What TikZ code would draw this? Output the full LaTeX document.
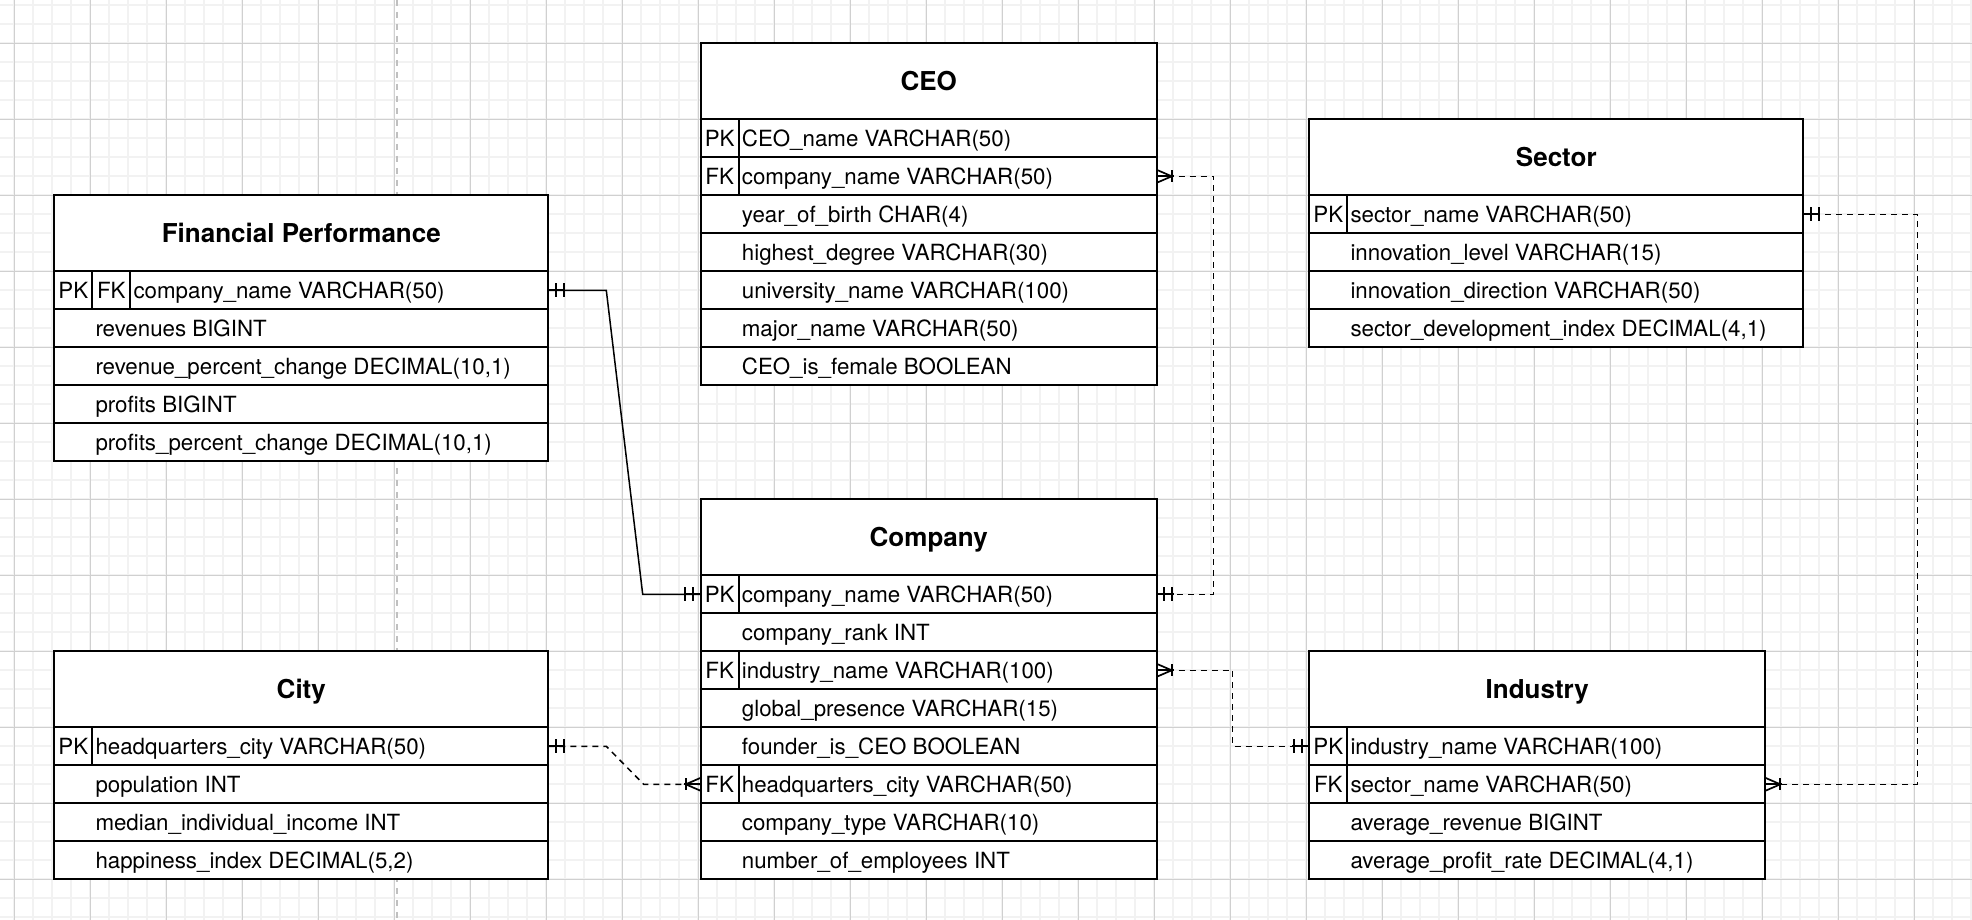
\documentclass[tikz,border=0pt]{standalone}
\usepackage{fontspec}
\setmainfont{TeX Gyre Heros}
\usetikzlibrary{calc}
\definecolor{minorgrid}{HTML}{F2F2F2}
\definecolor{majorgrid}{HTML}{D0D0D0}
\definecolor{pagebreak}{HTML}{C0C0C0}
\tikzset{
 cellbase/.style={draw=black, line width=1.8pt, fill=white, outer sep=0pt, inner sep=0pt},
 headcell/.style={cellbase, minimum height=76pt},
 rowcell/.style={cellbase, minimum height=38pt},
 keycell/.style={cellbase, minimum width=38pt, minimum height=38pt, text height=15.8pt, text depth=0pt, font=\fontsize{22.3}{26}\selectfont},
 rowtext/.style={inner sep=0pt, anchor=west, text height=15.8pt, text depth=0pt, font=\fontsize{22.3}{26}\selectfont},
 titletext/.style={inner sep=0pt, text height=18.7pt, text depth=0pt, font=\fontsize{26}{30}\selectfont\bfseries},
 conn/.style={draw=black, line width=1.5pt},
 dashconn/.style={conn, dash pattern=on 6pt off 5pt},
 mk/.style={draw=black, line width=1.7pt},
 minorline/.style={draw=minorgrid, line width=1.7pt},
 majorline/.style={draw=majorgrid, line width=1pt},
 pageline/.style={draw=pagebreak, line width=2pt, dash pattern=on 6pt off 6pt},
}
\newcommand{\erhead}[5]{%
 \node[headcell, minimum width=#4pt, anchor=north west] (#1) at (#2,#3) {};
 \node[titletext] (#1-title) at (#1.center) {#5};}
\newcommand{\errow}[6]{%
 \node[rowcell, minimum width=#4pt, anchor=north west] (#1) at (#2,#3) {};
 \if\relax\detokenize{#5}\relax\else\node[keycell, anchor=north west] (#1-key) at (#2,#3) {#5};\fi
 \node[rowtext] (#1-text) at ($(#1.west)+(41,0)$) {#6};}
\newcommand{\mone}[2]{%
 \draw[mk] (#1) -- ($(#1)+(#2*17,0)$);
 \draw[mk] ($(#1)+(#2*7.5,-7)$) -- ($(#1)+(#2*7.5,7)$);
 \draw[mk] ($(#1)+(#2*15.5,-7)$) -- ($(#1)+(#2*15.5,7)$);}
\newcommand{\mmany}[2]{%
 \draw[mk] (#1) -- ($(#1)+(#2*17,0)$);
 \draw[mk] ($(#1)+(0,-6.5)$) -- ($(#1)+(#2*15,0)$) -- ($(#1)+(0,6.5)$);
 \draw[mk] ($(#1)+(#2*15,-6)$) -- ($(#1)+(#2*15,6)$);}
\begin{document}
\begin{tikzpicture}[x=1pt,y=-1pt]
\useasboundingbox (0,0) rectangle (1972,920);
\fill[white] (0,0) rectangle (1972,920);
% grid
\foreach \i in {0,...,104} \draw[minorline] ({-4.7+19*\i},0) -- ({-4.7+19*\i},920);
\foreach \j in {0,...,48} \draw[minorline] (0,{5.3+19*\j}) -- (1972,{5.3+19*\j});
\foreach \i in {0,...,25} \draw[majorline] ({14.3+76*\i},0) -- ({14.3+76*\i},920);
\foreach \j in {0,...,11} \draw[majorline] (0,{43.3+76*\j}) -- (1972,{43.3+76*\j});
\draw[pageline] (396.7,0) -- (396.7,920);

% Financial Performance
\erhead{fp}{54.3}{195.3}{494}{Financial Performance}
\node[rowcell, minimum width=494pt, anchor=north west] (fp-r1) at (54.3,271.3) {};
\node[keycell, anchor=north west] (fp-r1-pk) at (54.3,271.3) {PK};
\node[keycell, anchor=north west] (fp-r1-fk) at (92.3,271.3) {FK};
\node[rowtext] (fp-r1-text) at ($(fp-r1.west)+(79,0)$) {company\_name VARCHAR(50)};
\errow{fp-r2}{54.3}{309.3}{494}{}{revenues BIGINT}
\errow{fp-r3}{54.3}{347.3}{494}{}{revenue\_percent\_change DECIMAL(10,1)}
\errow{fp-r4}{54.3}{385.3}{494}{}{profits BIGINT}
\errow{fp-r5}{54.3}{423.3}{494}{}{profits\_percent\_change DECIMAL(10,1)}

% CEO
\erhead{ceo}{700.7}{43.3}{456}{CEO}
\errow{ceo-r1}{700.7}{119.3}{456}{PK}{CEO\_name VARCHAR(50)}
\errow{ceo-r2}{700.7}{157.3}{456}{FK}{company\_name VARCHAR(50)}
\errow{ceo-r3}{700.7}{195.3}{456}{}{year\_of\_birth CHAR(4)}
\errow{ceo-r4}{700.7}{233.3}{456}{}{highest\_degree VARCHAR(30)}
\errow{ceo-r5}{700.7}{271.3}{456}{}{university\_name VARCHAR(100)}
\errow{ceo-r6}{700.7}{309.3}{456}{}{major\_name VARCHAR(50)}
\errow{ceo-r7}{700.7}{347.3}{456}{}{CEO\_is\_female BOOLEAN}

% Sector
\erhead{sec}{1309.3}{119.3}{494}{Sector}
\errow{sec-r1}{1309.3}{195.3}{494}{PK}{sector\_name VARCHAR(50)}
\errow{sec-r2}{1309.3}{233.3}{494}{}{innovation\_level VARCHAR(15)}
\errow{sec-r3}{1309.3}{271.3}{494}{}{innovation\_direction VARCHAR(50)}
\errow{sec-r4}{1309.3}{309.3}{494}{}{sector\_development\_index DECIMAL(4,1)}

% Company
\erhead{co}{700.7}{499.3}{456}{Company}
\errow{co-r1}{700.7}{575.3}{456}{PK}{company\_name VARCHAR(50)}
\errow{co-r2}{700.7}{613.3}{456}{}{company\_rank INT}
\errow{co-r3}{700.7}{651.3}{456}{FK}{industry\_name VARCHAR(100)}
\errow{co-r4}{700.7}{689.3}{456}{}{global\_presence VARCHAR(15)}
\errow{co-r5}{700.7}{727.3}{456}{}{founder\_is\_CEO BOOLEAN}
\errow{co-r6}{700.7}{765.3}{456}{FK}{headquarters\_city VARCHAR(50)}
\errow{co-r7}{700.7}{803.3}{456}{}{company\_type VARCHAR(10)}
\errow{co-r8}{700.7}{841.3}{456}{}{number\_of\_employees INT}

% City
\erhead{city}{54.3}{651.3}{494}{City}
\errow{city-r1}{54.3}{727.3}{494}{PK}{headquarters\_city VARCHAR(50)}
\errow{city-r2}{54.3}{765.3}{494}{}{population INT}
\errow{city-r3}{54.3}{803.3}{494}{}{median\_individual\_income INT}
\errow{city-r4}{54.3}{841.3}{494}{}{happiness\_index DECIMAL(5,2)}

% Industry
\erhead{ind}{1309.3}{651.3}{456}{Industry}
\errow{ind-r1}{1309.3}{727.3}{456}{PK}{industry\_name VARCHAR(100)}
\errow{ind-r2}{1309.3}{765.3}{456}{FK}{sector\_name VARCHAR(50)}
\errow{ind-r3}{1309.3}{803.3}{456}{}{average\_revenue BIGINT}
\errow{ind-r4}{1309.3}{841.3}{456}{}{average\_profit\_rate DECIMAL(4,1)}

% connectors
\draw[conn] (fp-r1.east) -- ++(58,0) -- ($(co-r1.west)+(-58,0)$) -- (co-r1.west);
\draw[dashconn] (ceo-r2.east) -- ++(57,0) |- (co-r1.east);
\draw[dashconn] (co-r3.east) -- ++(76,0) |- (ind-r1.west);
\draw[dashconn] (city-r1.east) -- ++(58,0) -- ($(co-r6.west)+(-57,0)$) -- (co-r6.west);
\draw[dashconn] (sec-r1.east) -- ++(114,0) |- (ind-r2.east);

% markers
\mone{fp-r1.east}{1}
\mone{co-r1.west}{-1}
\mmany{ceo-r2.east}{1}
\mone{co-r1.east}{1}
\mmany{co-r3.east}{1}
\mone{ind-r1.west}{-1}
\mone{city-r1.east}{1}
\mmany{co-r6.west}{-1}
\mone{sec-r1.east}{1}
\mmany{ind-r2.east}{1}
\end{tikzpicture}
\end{document}
